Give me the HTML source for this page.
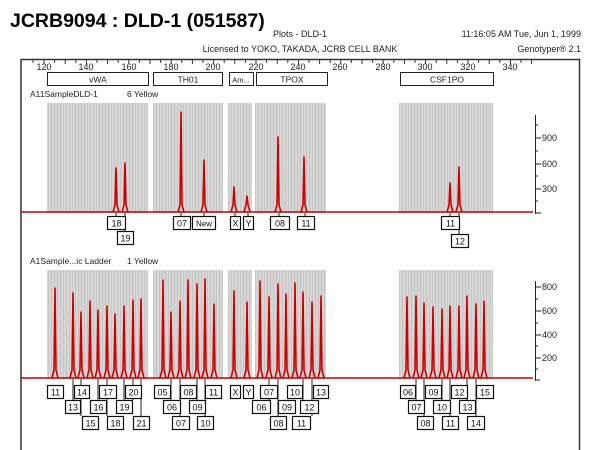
<!DOCTYPE html>
<html><head><style>
body{margin:0;background:#fff;}
svg{display:block;font-family:"Liberation Sans",sans-serif;}
</style></head><body>
<svg width="600" height="450" viewBox="0 0 600 450" xmlns="http://www.w3.org/2000/svg">
<defs>
<pattern id="g" width="3" height="4" patternUnits="userSpaceOnUse">
<rect width="3" height="4" fill="#d6d6d6"/><rect x="0" width="1" height="4" fill="#c6c6c6"/>
</pattern>
</defs>
<text x="10" y="27" font-size="19.5" font-weight="bold" fill="#000">JCRB9094 : DLD-1 (051587)</text>
<g font-size="9" fill="#222">
<text x="300" y="37" text-anchor="middle">Plots - DLD-1</text>
<text x="300" y="52" text-anchor="middle">Licensed to YOKO, TAKADA, JCRB CELL BANK</text>
<text x="581" y="37" text-anchor="end">11:16:05 AM Tue, Jun 1, 1999</text>
<text x="581" y="52" text-anchor="end">Genotyper® 2.1</text>
</g>
<path d="M21 450 V59.5 H579.5 V450" fill="none" stroke="#333" stroke-width="1.5"/>
<g stroke="#333" stroke-width="1">
<path d="M33 60v3M44 60v4M54.6 60v3M65.2 60v4M75.8 60v3M86.4 60v4M97 60v3M107.6 60v4M118.2 60v3M128.8 60v4M139.4 60v3M150 60v4M160.6 60v3M171.2 60v4M181.8 60v3M192.4 60v4M203 60v3M213.6 60v4M224.2 60v3M234.8 60v4M245.4 60v3M256 60v4M266.6 60v3M277.2 60v4M287.8 60v3M298.4 60v4M309 60v3M319.6 60v4M330.2 60v3M340.8 60v4M351.4 60v3M362 60v4M372.6 60v3M383.2 60v4M393.8 60v3M404.4 60v4M415 60v3M425.6 60v4M436.2 60v3M446.8 60v4M457.4 60v3M468 60v4M478.6 60v3M489.2 60v4M499.8 60v3M510.4 60v4M521 60v3M531.6 60v4"/>
</g>
<g font-size="9" fill="#222" text-anchor="middle">
<text x="44" y="70">120</text><text x="86" y="70">140</text><text x="129" y="70">160</text><text x="171" y="70">180</text><text x="213" y="70">200</text><text x="256" y="70">220</text><text x="298" y="70">240</text><text x="340" y="70">260</text><text x="383" y="70">280</text><text x="425" y="70">300</text><text x="468" y="70">320</text><text x="510" y="70">340</text>
</g>
<g fill="#fff" stroke="#222" stroke-width="1">
<rect x="47.5" y="72.5" width="101" height="13"/><rect x="153.5" y="72.5" width="69" height="13"/><rect x="229.5" y="72.5" width="24" height="13"/><rect x="256.5" y="72.5" width="71" height="13"/><rect x="400.5" y="72.5" width="93" height="13"/>
</g>
<g font-size="8.5" fill="#222" text-anchor="middle">
<text x="98" y="82.5">vWA</text><text x="188" y="82.5">TH01</text><text x="241" y="82.5" font-size="7.5">Am...</text><text x="292" y="82.5">TPOX</text><text x="447" y="82.5">CSF1PO</text>
</g>
<text x="30" y="97" font-size="8.5" fill="#222">A11SampleDLD-1</text><text x="127" y="97" font-size="8.5" fill="#222">6 Yellow</text>
<text x="30" y="264" font-size="8.5" fill="#222">A1Sample...ic Ladder</text><text x="127" y="264" font-size="8.5" fill="#222">1 Yellow</text>

<g fill="url(#g)">
<rect x="47" y="103" width="101" height="110"/><rect x="153" y="103" width="70" height="110"/><rect x="228" y="103" width="24" height="110"/><rect x="255" y="103" width="71" height="110"/><rect x="399" y="103" width="94" height="110"/>
<rect x="47" y="270" width="101" height="109"/><rect x="153" y="270" width="70" height="109"/><rect x="228" y="270" width="24" height="109"/><rect x="255" y="270" width="71" height="109"/><rect x="399" y="270" width="94" height="109"/>
</g>

<g stroke="#222" stroke-width="1" fill="none">
<path d="M535.5 115 V214 M535 138h6 M535 164h6 M535 189h6 M535 213h6 M535 125h3 M535 151h3 M535 176h3 M535 201h3"/>
<path d="M535.5 281 V381 M535 287h6 M535 311h6 M535 335h6 M535 358h6 M535 380h5 M535 299h3 M535 323h3 M535 346h3 M535 369h3"/>
</g>
<g font-size="9" fill="#222">
<text x="542" y="141">900</text><text x="542" y="167">600</text><text x="542" y="192">300</text>
<text x="542" y="290">800</text><text x="542" y="314">600</text><text x="542" y="338">400</text><text x="542" y="361">200</text>
</g>

<g stroke="#c00" stroke-width="1.6" fill="none" stroke-linejoin="round">
<path d="M21 212 H533"/>
<path d="M113 212 L115 205 L116 168 L117 205 L119 212 M122 212 L124 205 L125 163 L126 205 L128 212 M178 212 L180 205 L181 112 L182 205 L184 212 M201 212 L203 205 L204 160 L205 205 L207 212 M231 212 L233 205 L234 187 L235 205 L237 212 M244 212 L246 205 L247 196 L248 205 L250 212 M275 212 L277 205 L278 137 L279 205 L281 212 M301 212 L303 205 L304 157 L305 205 L307 212 M447 212 L449 205 L450 183 L451 205 L453 212 M456 212 L458 205 L459 167 L460 205 L462 212"/>
</g>
<g stroke="#c00" stroke-width="1.6" fill="none" stroke-linejoin="round">
<path d="M21 378 H533"/>
<path d="M52 378L54 370L55 288L56 370L58 378M70 378L72 370L73 293L74 370L76 378M78 378L80 370L81 312L82 370L84 378M87 378L89 370L90 301L91 370L93 378M95 378L97 370L98 310L99 370L101 378M104 378L106 370L107 306L108 370L110 378M112 378L114 370L115 314L116 370L118 378M121 378L123 370L124 306L125 370L127 378M130 378L132 370L133 300L134 370L136 378M138 378L140 370L141 299L142 370L144 378
M160 378L162 370L163 280L164 370L166 378M168 378L170 370L171 312L172 370L174 378M177 378L179 370L180 301L181 370L183 378M185 378L187 370L188 280L189 370L191 378M194 378L196 370L197 284L198 370L200 378M202 378L204 370L205 279L206 370L208 378M211 378L213 370L214 304L215 370L217 378
M231 378L233 370L234 291L235 370L237 378M244 378L246 370L247 302L248 370L250 378
M257 378L259 370L260 281L261 370L263 378M266 378L268 370L269 297L270 370L272 378M275 378L277 370L278 284L279 370L281 378M283 378L285 370L286 294L287 370L289 378M292 378L294 370L295 283L296 370L298 378M300 378L302 370L303 292L304 370L306 378M309 378L311 370L312 302L313 370L315 378M318 378L320 370L321 296L322 370L324 378
M404 378L406 370L407 297L408 370L410 378M413 378L415 370L416 296L417 370L419 378M421 378L423 370L424 303L425 370L427 378M430 378L432 370L433 307L434 370L436 378M439 378L441 370L442 309L443 370L445 378M447 378L449 370L450 306L451 370L453 378M456 378L458 370L459 306L460 370L462 378M464 378L466 370L467 296L468 370L470 378M473 378L475 370L476 304L477 370L479 378M481 378L483 370L484 301L485 370L487 378"/>
</g>

<g stroke="#222" stroke-width="1" fill="none">
<path d="M116 213v3M125 213v18M181 213v3M204 213v3M235 213v3M248 213v3M279 213v3M305 213v3M450 213v3M459 213v21"/>
</g>
<g fill="#fff" stroke="#111" stroke-width="1.2">
<rect x="107.5" y="216.5" width="18" height="13"/><rect x="117.5" y="231.5" width="16" height="13"/>
<rect x="173.5" y="216.5" width="17" height="13"/><rect x="192.5" y="216.5" width="23" height="13"/>
<rect x="230.5" y="216.5" width="10" height="13"/><rect x="243.5" y="216.5" width="10" height="13"/>
<rect x="270.5" y="216.5" width="19" height="13"/><rect x="297.5" y="216.5" width="17" height="13"/>
<rect x="441.5" y="216.5" width="18" height="13"/><rect x="451.5" y="234.5" width="17" height="13"/>
</g>
<g font-size="9" fill="#111" text-anchor="middle">
<text x="116.5" y="226.5">18</text><text x="125.5" y="241.5">19</text><text x="182" y="226.5">07</text><text x="204" y="226.5" font-size="8">New</text>
<text x="235.5" y="226.5">X</text><text x="248.5" y="226.5">Y</text><text x="280" y="226.5">08</text><text x="306" y="226.5">11</text>
<text x="450.5" y="226.5">11</text><text x="460" y="244.5">12</text>
</g>

<g stroke="#222" stroke-width="1" fill="none">
<path d="M73 379v21M81 379v37M98 379v21M107 379v37M124 379v21M133 379v21M141 379v37M171 379v21M180 379v37M197 379v21M205 379v37M269 379v21M278 379v37M303 379v21M312 379v37M416 379v21M424 379v37M442 379v21M450 379v37M467 379v21M476 379v37"/>
</g>
<g fill="#fff" stroke="#111" stroke-width="1.2">
<rect x="47.5" y="385.5" width="16" height="13"/><rect x="74.5" y="385.5" width="15" height="13"/><rect x="99.5" y="385.5" width="17" height="13"/><rect x="125.5" y="385.5" width="16" height="13"/>
<rect x="65.5" y="400.5" width="15" height="13"/><rect x="90.5" y="400.5" width="16" height="13"/><rect x="116.5" y="400.5" width="16" height="13"/>
<rect x="82.5" y="416.5" width="16" height="13"/><rect x="107.5" y="416.5" width="16" height="13"/><rect x="133.5" y="416.5" width="16" height="13"/>
<rect x="154.5" y="385.5" width="16" height="13"/><rect x="180.5" y="385.5" width="16" height="13"/><rect x="205.5" y="385.5" width="16" height="13"/>
<rect x="163.5" y="400.5" width="17" height="13"/><rect x="189.5" y="400.5" width="16" height="13"/>
<rect x="172.5" y="416.5" width="17" height="13"/><rect x="197.5" y="416.5" width="16" height="13"/>
<rect x="230.5" y="385.5" width="10" height="13"/><rect x="243.5" y="385.5" width="10" height="13"/>
<rect x="260.5" y="385.5" width="17" height="13"/><rect x="287.5" y="385.5" width="15" height="13"/><rect x="313.5" y="385.5" width="15" height="13"/>
<rect x="252.5" y="400.5" width="18" height="13"/><rect x="278.5" y="400.5" width="17" height="13"/><rect x="300.5" y="400.5" width="18" height="13"/>
<rect x="270.5" y="416.5" width="16" height="13"/><rect x="292.5" y="416.5" width="18" height="13"/>
<rect x="400.5" y="385.5" width="15" height="13"/><rect x="425.5" y="385.5" width="16" height="13"/><rect x="451.5" y="385.5" width="16" height="13"/><rect x="476.5" y="385.5" width="17" height="13"/>
<rect x="408.5" y="400.5" width="16" height="13"/><rect x="433.5" y="400.5" width="17" height="13"/><rect x="459.5" y="400.5" width="16" height="13"/>
<rect x="417.5" y="416.5" width="16" height="13"/><rect x="442.5" y="416.5" width="16" height="13"/><rect x="467.5" y="416.5" width="17" height="13"/>
</g>
<g font-size="9" fill="#111" text-anchor="middle">
<text x="55.5" y="395.5">11</text><text x="82" y="395.5">14</text><text x="108" y="395.5">17</text><text x="133.5" y="395.5">20</text>
<text x="73" y="410.5">13</text><text x="98.5" y="410.5">16</text><text x="124.5" y="410.5">19</text>
<text x="90.5" y="426.5">15</text><text x="115.5" y="426.5">18</text><text x="141.5" y="426.5">21</text>
<text x="162.5" y="395.5">05</text><text x="188.5" y="395.5">08</text><text x="213.5" y="395.5">11</text>
<text x="172" y="410.5">06</text><text x="197.5" y="410.5">09</text>
<text x="181" y="426.5">07</text><text x="205.5" y="426.5">10</text>
<text x="235.5" y="395.5">X</text><text x="248.5" y="395.5">Y</text>
<text x="269" y="395.5">07</text><text x="295" y="395.5">10</text><text x="321" y="395.5">13</text>
<text x="261.5" y="410.5">06</text><text x="287" y="410.5">09</text><text x="309.5" y="410.5">12</text>
<text x="278.5" y="426.5">08</text><text x="301.5" y="426.5">11</text>
<text x="408" y="395.5">06</text><text x="433.5" y="395.5">09</text><text x="459.5" y="395.5">12</text><text x="485" y="395.5">15</text>
<text x="416.5" y="410.5">07</text><text x="442" y="410.5">10</text><text x="467.5" y="410.5">13</text>
<text x="425.5" y="426.5">08</text><text x="450.5" y="426.5">11</text><text x="476" y="426.5">14</text>
</g>
</svg>
</body></html>
